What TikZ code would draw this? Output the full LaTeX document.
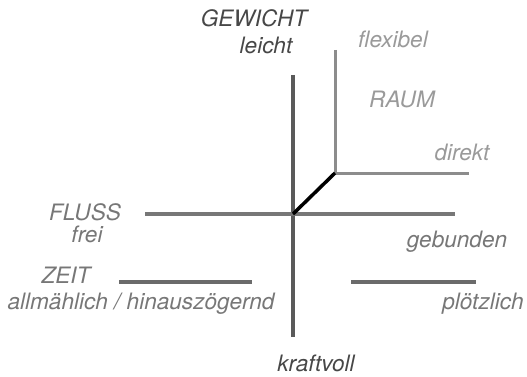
\documentclass[tikz,border=0pt]{standalone}
\usepackage{fontspec}
\setmainfont{TeX Gyre Heros}
\usepackage{tikz}
\usetikzlibrary{positioning}
\definecolor{darkax}{HTML}{5a5a5a}
\definecolor{midax}{HTML}{777777}
\definecolor{lightax}{HTML}{8c8c8c}
\definecolor{darktxt}{HTML}{474747}
\definecolor{midtxt}{HTML}{777777}
\definecolor{lighttxt}{HTML}{9a9a9a}
\tikzset{
  lbl/.style={font=\fontsize{22.6}{27}\selectfont\itshape, inner sep=0pt, anchor=base},
}

\begin{document}
\begin{tikzpicture}[x=1pt, y=-1pt]
  \useasboundingbox (0,0) rectangle (527,377);

  % GEWICHT (vertical)
  \coordinate (gTop) at (293,75);
  \coordinate (gBot) at (293,337);
  \draw[line width=4pt, darkax] (gTop) -- (gBot);
  \node[lbl, darktxt] (gewicht) at (254,27) {GEWICHT};
  \node[lbl, darktxt] (leicht) at (266,54) {leicht};
  \node[lbl, darktxt] (kraftvoll) at (316,371) {kraftvoll};

  % FLUSS (horizontal)
  \coordinate (fLeft) at (145,214);
  \coordinate (fRight) at (455,214);
  \draw[line width=3.3pt, midax] (fLeft) -- (fRight);
  \node[lbl, midtxt] (fluss) at (85,220) {FLUSS};
  \node[lbl, midtxt] (frei) at (87,242) {frei};
  \node[lbl, midtxt] (gebunden) at (457,247) {gebunden};

  % RAUM (corner)
  \coordinate (rTop) at (335,50);
  \coordinate (rCorner) at (335,173);
  \coordinate (rRight) at (469,173);
  \draw[line width=3pt, lightax] (rTop) -- (rCorner) -- (rRight);
  \node[lbl, lighttxt] (flexibel) at (393,48) {flexibel};
  \node[lbl, lighttxt] (raum) at (402,108) {RAUM};
  \node[lbl, lighttxt] (direkt) at (462,160) {direkt};

  % link
  \coordinate (center) at (293,214);
  \draw[line width=3.5pt, black] (center) -- (rCorner);

  % ZEIT
  \coordinate (zLeftA) at (119,282);
  \coordinate (zLeftB) at (252,282);
  \coordinate (zRightA) at (351,282);
  \coordinate (zRightB) at (476,282);
  \draw[line width=3.3pt, darkax!90!white] (zLeftA) -- (zLeftB);
  \draw[line width=3.3pt, darkax!90!white] (zRightA) -- (zRightB);
  \node[lbl, midtxt] (zeit) at (66,283) {ZEIT};
  \node[lbl, midtxt] (allmaehlich) at (141,309) {allmählich / hinauszögernd};
  \node[lbl, midtxt] (ploetzlich) at (483,309) {plötzlich};
\end{tikzpicture}
\end{document}
